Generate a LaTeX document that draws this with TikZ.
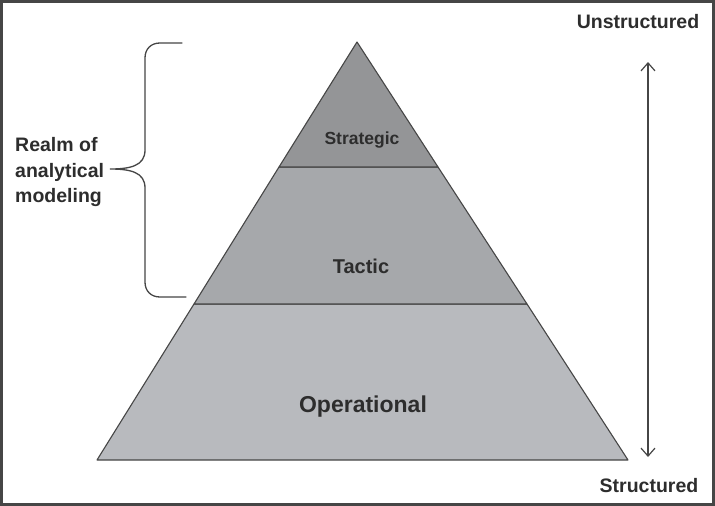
\documentclass[tikz,border=0pt]{standalone}
\usepackage{fontspec}
\setmainfont{Liberation Sans}
\usetikzlibrary{arrows.meta}
\definecolor{strat}{RGB}{148,149,151}
\definecolor{tact}{RGB}{166,168,171}
\definecolor{oper}{RGB}{184,186,190}
\definecolor{edge}{RGB}{70,70,70}
\definecolor{txt}{RGB}{45,45,45}
\begin{document}
\begin{tikzpicture}[x=1pt,y=-1pt,
  lbl/.style={text=txt,font=\bfseries,inner sep=0pt},
  band/.style={draw=edge,line width=1.1pt,line join=round}]
\useasboundingbox (0,0) rectangle (715,506);
\fill[white] (0,0) rectangle (715,506);
\draw[edge,line width=3pt] (1.5,1.5) rectangle (713.5,504.5);
% pyramid
\coordinate (apex) at (357,42);
\coordinate (s1) at (279,167);
\coordinate (s2) at (438,167);
\coordinate (t1) at (194,304);
\coordinate (t2) at (527,304);
\coordinate (b1) at (97,460);
\coordinate (b2) at (628,460);
\filldraw[band,fill=oper] (t1) -- (t2) -- (b2) -- (b1) -- cycle;
\filldraw[band,fill=tact] (s1) -- (s2) -- (t2) -- (t1) -- cycle;
\filldraw[band,fill=strat] (apex) -- (s2) -- (s1) -- cycle;
\node[lbl,font=\bfseries\fontsize{17.5}{20}\selectfont] (strategic) at (362,140) {Strategic};
\node[lbl,font=\bfseries\fontsize{20}{23}\selectfont] (tactic) at (361,266) {Tactic};
\node[lbl,font=\bfseries\fontsize{23}{26}\selectfont] (operational) at (363,407) {Operational};
% brace
\draw[edge,line width=1.3pt,line cap=round] (182,43) -- (160,43)
  .. controls (151,43) and (145,49) .. (145,58) -- (145,150)
  .. controls (145,166) and (130,169) .. (110,169)
  .. controls (130,169) and (145,172) .. (145,188) -- (145,282)
  .. controls (145,291) and (151,297) .. (160,297) -- (186,297);
\node[lbl,align=left,anchor=west,font=\bfseries\fontsize{19.5}{25.5}\selectfont] (realm) at (15,172) {Realm of\\analytical\\modeling};
% arrow
\node[lbl,font=\bfseries\fontsize{19.5}{22}\selectfont] (unstr) at (638,22) {Unstructured};
\node[lbl,font=\bfseries\fontsize{19.5}{22}\selectfont] (str) at (649,486) {Structured};
\coordinate (atop) at (648,62);
\coordinate (abot) at (648,457);
\draw[edge,line width=1.2pt,{Straight Barb[length=8pt,width=14pt]}-{Straight Barb[length=8pt,width=14pt]}] (atop) -- (abot);
\end{tikzpicture}
\end{document}
